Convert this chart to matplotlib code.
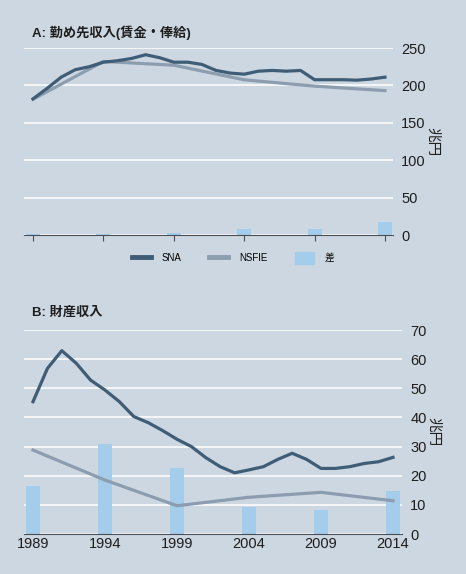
import matplotlib as mpl
mpl.use('Agg')
import matplotlib.pyplot as plt
from matplotlib.lines import Line2D
from matplotlib.patches import Patch

plt.rcParams['font.family'] = ['Liberation Sans', 'Noto Sans CJK JP', 'DejaVu Sans']

# data
years = list(range(1989, 2015))
nsfie_years = [1989, 1994, 1999, 2004, 2009, 2014]

wage_sna = [182, 196, 211, 221, 225, 231, 233, 236, 241, 237, 231, 231, 228,
            220, 216.5, 215, 219, 220, 219, 220, 207.6, 207.6, 207.6, 207, 208.5, 211]
wage_nsfie = [181.5, 232, 227, 207.5, 199, 193]
wage_diff = [1, 1, 3, 8, 8, 18]

prop_sna = [45.4, 56.8, 62.9, 58.6, 52.8, 49.4, 45.4, 40.3, 38.2, 35.5, 32.5, 30,
            26.2, 23.1, 21, 22, 23.1, 25.6, 27.7, 25.6, 22.5, 22.5, 23.1, 24.2, 24.8, 26.3]
prop_nsfie = [28.8, 18.5, 9.7, 12.6, 14.3, 11.4]
prop_diff = [16.6, 30.9, 22.8, 9.4, 8.2, 14.9]

BG = '#cdd7e1'
SNA_C = '#3f5d76'
NSFIE_C = '#8d9db0'
BAR_C = '#a3cdeb'
TXT = '#1e1e1e'

W, H = 466, 574
fig = plt.figure(figsize=(W / 100, H / 100), dpi=100)
fig.set_facecolor(BG)


def px_axes(left, top, right, bottom):
    return fig.add_axes([left / W, 1 - bottom / H, (right - left) / W, (bottom - top) / H])


def style(ax, ymax, step, tickdir):
    ax.set_facecolor(BG)
    for s in ['top', 'left', 'right']:
        ax.spines[s].set_visible(False)
    ax.spines['bottom'].set_color('#4a4f55')
    ax.spines['bottom'].set_linewidth(0.8)
    ax.set_ylim(0, ymax)
    ax.set_yticks(range(0, ymax + 1, step))
    ax.yaxis.tick_right()
    ax.tick_params(axis='y', length=0, labelsize=10.5, pad=6, colors=TXT)
    ax.grid(axis='y', color='white', linewidth=1.1)
    ax.set_axisbelow(True)
    ax.yaxis.set_label_position('right')
    ax.set_ylabel('兆円', rotation=-90, fontsize=10.5, labelpad=0, va='bottom', color=TXT)
    ax.set_xticks(nsfie_years)
    ax.tick_params(axis='x', direction=tickdir, length=4, width=0.8, color='#4a4f55')


# Panel A
axA = px_axes(24, 48, 393, 235)
style(axA, 250, 50, 'out')
axA.bar(nsfie_years, wage_diff, width=1.0, color=BAR_C, zorder=1)
axA.plot(years, wage_sna, color=SNA_C, lw=2.3, zorder=3)
axA.plot(nsfie_years, wage_nsfie, color=NSFIE_C, lw=2.3, zorder=2)
axA.set_xlim(1988.36, 2014.57)
axA.set_xticklabels([])
fig.text(32 / W, 1 - 33 / H, 'A: 勤め先収入(賃金・俸給)', fontsize=9.5, va='center',
         color=TXT, fontweight='bold')

handles = [Line2D([], [], color=SNA_C, lw=3.5),
           Line2D([], [], color=NSFIE_C, lw=3.5),
           Patch(color=BAR_C)]
fig.legend(handles, ['SNA', 'NSFIE', '差'], loc='center', bbox_to_anchor=(0.5, 1 - 258 / H),
           ncol=3, frameon=False, fontsize=7, handlelength=2.0, handleheight=1.4,
           columnspacing=2.8, handletextpad=1.1)

# Panel B
axB = px_axes(24, 330, 402, 534)
style(axB, 70, 10, 'in')
axB.bar(nsfie_years, prop_diff, width=1.0, color=BAR_C, zorder=1)
axB.plot(years, prop_sna, color=SNA_C, lw=2.3, zorder=3)
axB.plot(nsfie_years, prop_nsfie, color=NSFIE_C, lw=2.3, zorder=2)
axB.set_xlim(1988.375, 2014.625)
axB.set_xticklabels([str(y) for y in nsfie_years])
axB.tick_params(axis='x', labelsize=10.5, pad=2, labelcolor=TXT)
fig.text(32 / W, 1 - 313 / H, 'B: 財産収入', fontsize=9.5, va='center', color=TXT,
         fontweight='bold')

plt.savefig('out.png', dpi=100, facecolor=BG)
